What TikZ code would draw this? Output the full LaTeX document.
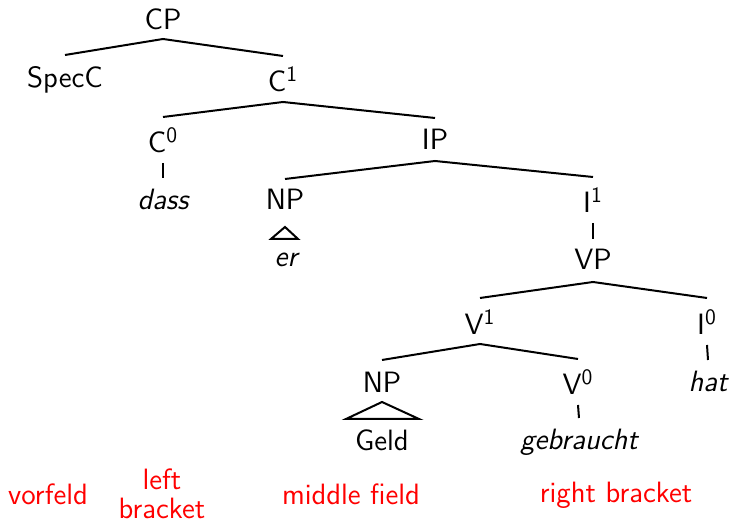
\documentclass[tikz,border=0pt]{standalone}
\usepackage{fontspec}
\newcommand\barlevel[1]{\textsuperscript{\fontsize{11}{11}\selectfont #1}}
\begin{document}
\begin{tikzpicture}[x=0.5pt,y=-0.5pt,
  lab/.style={anchor=base,inner sep=0pt,font=\sffamily\fontsize{14.7}{17}\selectfont},
  word/.style={lab,font=\sffamily\itshape\fontsize{14.7}{17}\selectfont},
  field/.style={lab,text=red,align=center,font=\sffamily\fontsize{14.7}{14.5}\selectfont},
  branch/.style={line width=1pt}]
\useasboundingbox (0,0) rectangle (730,522);

% category labels
\node[lab] (cp)   at (163,30)  {CP};
\node[lab] (specc) at (65,88)  {SpecC};
\node[lab] (c1)   at (283,92)  {C\barlevel{1}};
\node[lab] (c0)   at (163,153) {C\barlevel{0}};
\node[lab] (ip)   at (435,150) {IP};
\node[lab] (np1)  at (285,210) {NP};
\node[lab] (i1)   at (593,213) {I\barlevel{1}};
\node[lab] (vp)   at (593,270) {VP};
\node[lab] (v1)   at (480,335) {V\barlevel{1}};
\node[lab] (i0)   at (707,335) {I\barlevel{0}};
\node[lab] (np2)  at (382,393) {NP};
\node[lab] (v0)   at (578,395) {V\barlevel{0}};

% words
\node[word] (dass) at (163,210) {dass};
\node[word] (er)   at (286,267) {er};
\node[word] (hat)  at (708,392) {hat};
\node[lab]  (geld) at (382,451) {Geld};
\node[word] (gebraucht) at (579,450) {gebraucht};

% topological fields
\node[field] (vorfeld) at (48,505)  {vorfeld};
\node[field] (leftbr)  at (162,519) {left\\bracket};
\node[field] (middle)  at (351,505) {middle field};
\node[field] (rightbr) at (616,503) {right bracket};

% branches
\draw[branch] ([yshift=16.5pt]specc.base) -- ([yshift=-4.5pt]cp.base) -- ([yshift=18pt]c1.base);
\draw[branch] ([yshift=18pt]c0.base) -- ([yshift=-5pt]c1.base) -- ([yshift=16pt]ip.base);
\draw[branch] ([yshift=-5pt]c0.base) -- ([yshift=16pt]dass.base);
\draw[branch] ([yshift=15.5pt]np1.base) -- ([yshift=-5.5pt]ip.base) -- ([yshift=18pt]i1.base);
\draw[branch] ([yshift=-5pt]i1.base) -- ([yshift=15.5pt]vp.base);
\draw[branch] ([yshift=18.5pt]v1.base) -- ([yshift=-6pt]vp.base) -- ([yshift=18.5pt]i0.base);
\draw[branch] ([yshift=16.5pt]np2.base) -- ([yshift=-4.5pt]v1.base) -- ([yshift=18pt]v0.base);
\draw[branch] ([yshift=-5pt]i0.base) -- ([yshift=16pt]hat.base);
\draw[branch] ([yshift=-5pt]v0.base) -- ([yshift=16pt]gebraucht.base);

% roofs over unanalysed phrases
\draw[branch] ([yshift=-8.5pt]np1.base) -- ([xshift=-7.5pt,yshift=14pt]er.base)
  -- ([xshift=6pt,yshift=14pt]er.base) -- cycle;
\draw[branch] ([yshift=-4.5pt]np2.base) -- ([xshift=-18pt,yshift=16pt]geld.base)
  -- ([xshift=18.5pt,yshift=16pt]geld.base) -- cycle;
\end{tikzpicture}
\end{document}
